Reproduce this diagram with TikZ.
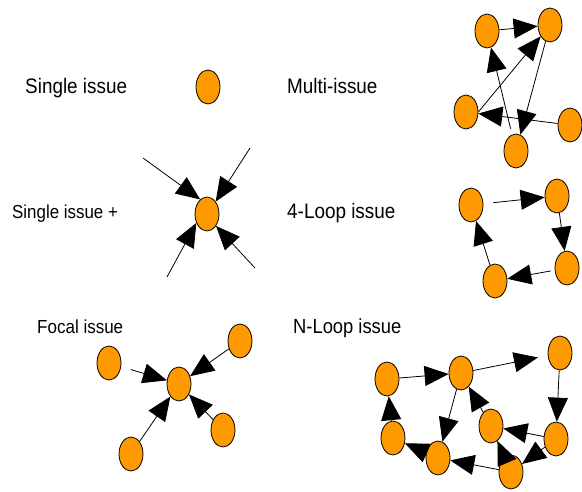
\documentclass[tikz,border=0pt]{standalone}
\usepackage{fontspec}
\setmainfont{Liberation Sans}[FakeStretch=0.9]
\usetikzlibrary{arrows.meta,shapes.geometric}
\definecolor{issueorange}{RGB}{255,153,0}
\tikzset{
  issue/.style={ellipse,draw=black,line width=0.8pt,fill=issueorange,minimum width=24pt,minimum height=34pt,inner sep=0pt},
  arr/.style={draw=black,line width=0.8pt,-{Triangle[length=24pt,width=20pt]}},
  lbl/.style={anchor=base west,inner sep=0pt,text=black},
}
\begin{document}
\begin{tikzpicture}[x=1pt,y=-1pt]
\useasboundingbox (0,0) rectangle (582,491);
% labels
\node[lbl,font=\fontsize{21}{25}\selectfont] (t1) at (25,93) {Single issue};
\node[lbl,font=\fontsize{21}{25}\selectfont] (t2) at (287,93) {Multi-issue};
\node[lbl,font=\fontsize{18.8}{22}\selectfont] (t3) at (12,218) {Single issue +};
\node[lbl,font=\fontsize{21}{25}\selectfont] (t4) at (287,218) {4-Loop issue};
\node[lbl,font=\fontsize{18.9}{22}\selectfont] (t5) at (37,333) {Focal issue};
\node[lbl,font=\fontsize{20.4}{24}\selectfont] (t6) at (293,333) {N-Loop issue};

% single issue
\node[issue] (si) at (208,87) {};

% single issue +
\node[issue] (sp) at (207,214) {};
\coordinate (sp1) at (143,158);
\coordinate (sp2) at (250,148);
\coordinate (sp3) at (167,277);
\coordinate (sp4) at (255,268);
\draw[arr] (sp1) -- (sp.115);
\draw[arr] (sp2) -- (sp.55);
\draw[arr] (sp3) -- (sp.220);
\draw[arr] (sp4) -- (sp.-53);

% multi-issue
\node[issue] (mA) at (487,31) {};
\node[issue] (mB) at (550,25) {};
\node[issue] (mC) at (466,112) {};
\node[issue] (mD) at (570,125) {};
\node[issue] (mE) at (516,151) {};
\draw[arr] (mA) -- (mB);
\draw[arr,shorten <=6pt] (mE) -- (mA);
\draw[arr] (mC.east) -- (mB);
\draw[arr] (mD) -- (mC);
\draw[arr] (mB) -- (mE);

% 4-loop
\node[issue] (lP) at (471,205) {};
\node[issue] (lQ) at (557,196) {};
\node[issue] (lR) at (567,268) {};
\node[issue] (lS) at (495,281) {};
\draw[arr,shorten <=10pt] (lP) -- (lQ);
\draw[arr] (lQ) -- (lR);
\draw[arr,shorten <=4pt] (lR) -- (lS);
\draw[arr] (lS) -- (lP);

% focal issue
\node[issue] (fF) at (179,384) {};
\node[issue] (fL) at (109,363) {};
\node[issue] (fT) at (240,341) {};
\node[issue] (fB) at (131,454) {};
\node[issue] (fR) at (223,430) {};
\draw[arr,shorten <=10pt] (fL) -- (fF);
\draw[arr] (fT) -- (fF);
\draw[arr] (fB) -- (fF);
\draw[arr] (fR) -- (fF);

% N-loop
\node[issue] (n1) at (387,379) {};
\node[issue] (n2) at (461,373) {};
\node[issue] (n3) at (560,353) {};
\node[issue] (n4) at (393,438) {};
\node[issue] (n5) at (438,458) {};
\node[issue] (n6) at (491,426) {};
\node[issue] (n7) at (556,439) {};
\node[issue] (n8) at (511,472) {};
\draw[arr] (n1) -- (n2);
\draw[arr,shorten >=10pt] (n2) -- (n3);
\draw[arr] (n3) -- (n7);
\draw[arr] (n2) -- (n5);
\draw[arr] (n5) -- (n4);
\draw[arr] (n4) -- (n1);
\draw[arr] (n8) -- (n5);
\draw[arr] (n7) -- (n6);
\draw[arr] (n7) -- (n8);
\draw[arr] (n8) -- (n6);
\draw[arr] (n6) -- (n2);
\end{tikzpicture}
\end{document}
